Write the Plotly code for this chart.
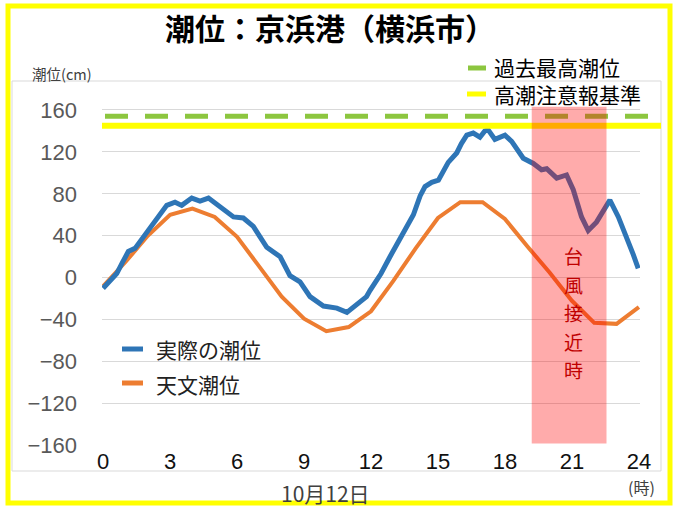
import plotly.graph_objects as go

# ---------------- data ----------------
astro_hours = list(range(25))
astro_tide = [-8, 15, 40, 60, 66, 58, 39, 10, -18, -39, -51, -47, -32, -3, 28, 57,
              72, 72, 56, 30, 5, -22, -43, -44, -28]

actual_hours = [0.00, 0.30, 0.61, 0.85, 1.13, 1.43, 1.81, 2.10, 2.40, 2.85, 3.22, 3.52,
                3.97, 4.34, 4.72, 5.24, 5.84, 6.28, 6.73, 7.00, 7.33, 7.93, 8.37, 8.82,
                9.27, 9.87, 10.47, 10.92, 11.36, 11.80, 11.96, 12.25, 12.45, 12.85, 13.45,
                13.90, 14.20, 14.42, 14.72, 15.02, 15.46, 15.84, 16.05, 16.29, 16.58, 16.88,
                17.10, 17.25, 17.55, 17.80, 18.00, 18.30, 18.60, 18.82, 19.27, 19.64, 19.87,
                20.32, 20.76, 21.06, 21.43, 21.73, 22.10, 22.40, 22.70, 23.08, 23.45, 23.75,
                23.97]
actual_tide = [-10, -3, 4, 14, 25, 28, 39, 47, 55, 69, 72, 69,
               76, 73, 76, 68, 58, 57, 49, 40, 29, 20, 2, -4,
               -18, -27, -29, -33, -25, -18, -12, -3, 4, 20, 42,
               60, 78, 87, 91, 93, 110, 119, 128, 136, 138, 134,
               140, 141, 132, 134, 136, 130, 121, 114, 109, 103, 104,
               95, 98, 84, 58, 45, 53, 63, 74, 58, 39, 22,
               9]

record_high = 154      # 過去最高潮位
warning_level = 145    # 高潮注意報基準
typhoon_start, typhoon_end = 19.2, 22.55

x_ticks = [0, 3, 6, 9, 12, 15, 18, 21, 24]
y_ticks = [-160, -120, -80, -40, 0, 40, 80, 120, 160]

series_names = ["実際の潮位", "天文潮位"]
ref_names = ["過去最高潮位", "高潮注意報基準"]
title_text = "潮位：京浜港（横浜市）"
typhoon_label = "台風接近時"

BLUE = "#2E75B6"
ORANGE = "#ED7D31"
GREEN = "#8CC63F"
YELLOW = "#FFFF00"

W, H = 675, 518
L, R, T, B = 102, 35, 106, 72
PW, PH = W - L - R, H - T - B


def px(x):
    return (x - L) / PW


def py(y):
    return (H - B - y) / PH


fig = go.Figure()
fig.add_trace(go.Scatter(x=astro_hours, y=astro_tide, mode="lines", name=series_names[1],
                         line=dict(color=ORANGE, width=4), showlegend=False))
fig.add_trace(go.Scatter(x=actual_hours, y=actual_tide, mode="lines", name=series_names[0],
                         line=dict(color=BLUE, width=5), showlegend=False))

shapes = []
# reference lines
shapes.append(dict(type="line", xref="paper", yref="y", x0=px(105), x1=px(656),
                   y0=record_high, y1=record_high,
                   line=dict(color=GREEN, width=5, dash="23px,17px"), layer="above"))
shapes.append(dict(type="line", xref="paper", yref="y", x0=0, x1=px(661),
                   y0=warning_level, y1=warning_level,
                   line=dict(color=YELLOW, width=6), layer="above"))
# typhoon band
shapes.append(dict(type="rect", xref="x", yref="y", x0=typhoon_start, x1=typhoon_end,
                   y0=-158, y1=163, fillcolor="rgba(255,0,0,0.33)", line=dict(width=0),
                   layer="above"))
# inner chart border
shapes.append(dict(type="rect", xref="paper", yref="paper", x0=px(12), x1=px(661),
                   y0=py(471), y1=py(81), line=dict(color="#D9D9D9", width=1), layer="below"))
# outer yellow frame
shapes.append(dict(type="rect", xref="paper", yref="paper", x0=px(8), x1=px(670),
                   y0=py(503), y1=py(6), line=dict(color=YELLOW, width=5), layer="above"))
# legend symbols
shapes.append(dict(type="line", xref="paper", yref="paper", x0=px(468), x1=px(486),
                   y0=py(68), y1=py(68), line=dict(color=GREEN, width=5)))
shapes.append(dict(type="line", xref="paper", yref="paper", x0=px(467), x1=px(486),
                   y0=py(94), y1=py(94), line=dict(color=YELLOW, width=5)))
shapes.append(dict(type="line", xref="paper", yref="paper", x0=px(122), x1=px(143),
                   y0=py(349), y1=py(349), line=dict(color=BLUE, width=5)))
shapes.append(dict(type="line", xref="paper", yref="paper", x0=px(122), x1=px(143),
                   y0=py(383), y1=py(383), line=dict(color=ORANGE, width=5)))

JP = "Noto Sans CJK JP"
annotations = [
    dict(text=f"<b>{title_text}</b>", x=px(330), y=py(27), font=dict(family=JP, size=30, color="#000000")),
    dict(text="潮位(cm)", x=px(30), y=py(74), xanchor="left", font=dict(family=JP, size=14.5, color="#404040")),
    dict(text="<br>".join(ref_names), x=px(492), y=py(80.5), xanchor="left", align="left",
         font=dict(family=JP, size=21, color="#000000")),
    dict(text=series_names[0], x=px(154), y=py(349), xanchor="left", font=dict(family=JP, size=21, color="#222222")),
    dict(text=series_names[1], x=px(154), y=py(384), xanchor="left", font=dict(family=JP, size=21, color="#222222")),
    dict(text="10月12日", x=px(325), y=py(493), font=dict(family=JP, size=21, color="#404040")),
    dict(text="(時)", x=px(641), y=py(487), font=dict(family=JP, size=16, color="#404040")),
]
for a in annotations:
    a.update(xref="paper", yref="paper", showarrow=False)
    a.setdefault("xanchor", "center")
    a.setdefault("yanchor", "middle")

# vertical label, one character per annotation
for i, ch in enumerate(typhoon_label):
    annotations.append(dict(text=ch, xref="x", yref="y", x=21.05, y=21 - 27.2 * i,
                            showarrow=False, xanchor="center", yanchor="middle",
                            font=dict(family=JP, size=19, color="#C00000")))

fig.update_layout(
    width=W, height=H,
    margin=dict(l=L, r=R, t=T, b=B, pad=0),
    paper_bgcolor="white", plot_bgcolor="white",
    shapes=shapes, annotations=annotations, showlegend=False,
    xaxis=dict(range=[-0.05, 24.05], tickvals=x_ticks, showgrid=False, zeroline=False,
               showline=False, ticks="", tickfont=dict(family="Liberation Sans", size=22, color="#111111"),
               fixedrange=True),
    yaxis=dict(range=[-160.5, 163.8], tickvals=y_ticks, showgrid=True, gridcolor="#D9D9D9",
               gridwidth=1, zeroline=False, showline=False, ticks="",
               ticklabelstandoff=24,
               tickfont=dict(family="Liberation Sans", size=22, color="#595959"), fixedrange=True),
)

fig.write_html("out.html")
